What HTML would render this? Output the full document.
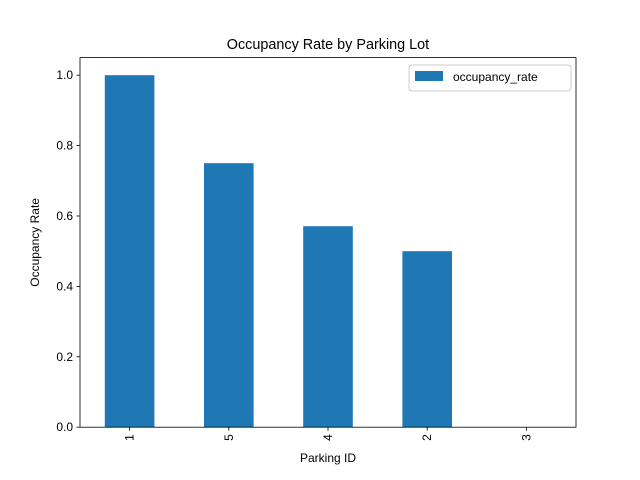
<!DOCTYPE html>
<html><head><meta charset="utf-8"><style>
body{margin:0;background:#fff;}
svg{display:block;font-family:"Liberation Sans","DejaVu Sans",sans-serif;}
</style></head><body>
<svg id="chart" width="640" height="480">
<rect width="640" height="480" fill="#fff"/>
<text x="328" y="49" text-anchor="middle" font-size="14.4">Occupancy Rate by Parking Lot</text>
<g id="bars"></g>
<g id="axes"></g>
<text x="328" y="462" text-anchor="middle" font-size="12">Parking ID</text>
<text transform="translate(39,242.4) rotate(-90)" text-anchor="middle" font-size="12">Occupancy Rate</text>
<g>
<rect x="409" y="65" width="162" height="26" rx="3" fill="#fff" fill-opacity="0.8" stroke="#ccc" stroke-width="1"/>
<rect x="415" y="71" width="28" height="10" fill="#1f77b4"/>
<text x="453" y="81" font-size="12">occupancy_rate</text>
</g>
</svg>
<script>
const categories = ["1","5","4","2","3"];
const values = [1.0, 0.75, 0.571, 0.5, 0.0];
const yTicks = [0.0, 0.2, 0.4, 0.6, 0.8, 1.0];
const yTickLabels = ["0.0","0.2","0.4","0.6","0.8","1.0"];

const L=80,R=576,T=57.6,B=427.2,yMax=1.05;
const ns="http://www.w3.org/2000/svg";
const xs=i=>L+(i+0.5)*(R-L)/categories.length;
const ys=v=>B-v/yMax*(B-T);
const bw=0.5*(R-L)/categories.length;
function mk(tag,attrs,parent){const e=document.createElementNS(ns,tag);for(const k in attrs)e.setAttribute(k,attrs[k]);parent.appendChild(e);return e;}
const bars=document.getElementById('bars'),axes=document.getElementById('axes');
values.forEach((v,i)=>{
  const r=mk('rect',{x:xs(i)-bw/2,y:ys(v),width:bw,height:B-ys(v),fill:'#1f77b4'},bars);
  
  
});
const frame=mk('rect',{x:L,y:T,width:R-L,height:B-T,fill:'none',stroke:'#000','stroke-width':0.8},axes);


yTicks.forEach((t,i)=>{
  const y=ys(t);
  mk('line',{x1:L-3.5,x2:L,y1:y,y2:y,stroke:'#000','stroke-width':0.8},axes);
  const tx=mk('text',{x:L-7,y:y+4,'text-anchor':'end','font-size':12},axes);
  tx.textContent=yTickLabels[i];
  
  
});
categories.forEach((c,i)=>{
  const x=xs(i);
  mk('line',{x1:x,x2:x,y1:B,y2:B+3.5,stroke:'#000','stroke-width':0.8},axes);
  const tx=mk('text',{transform:`translate(${x+4},${B+7}) rotate(-90)`,'text-anchor':'end','font-size':12},axes);
  tx.textContent=c;
  
  
});
</script>
</body></html>
